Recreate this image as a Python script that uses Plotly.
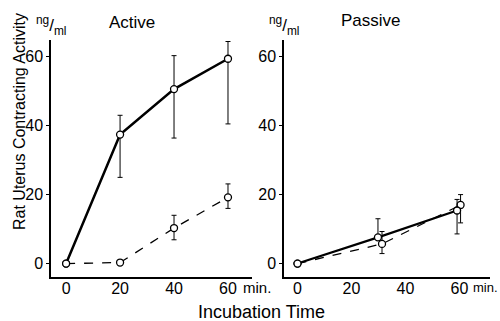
import plotly.graph_objects as go

# Active panel
act_time = [0, 20, 40, 60]
act_solid = [0, 37.4, 50.6, 59.4]
act_solid_err_plus = [0, 5.6, 9.7, 5.0]
act_solid_err_minus = [0, 12.4, 14.2, 18.9]
act_dash = [0, 0.3, 10.3, 19.2]
act_dash_err_plus = [0, 0, 3.7, 3.9]
act_dash_err_minus = [0, 0, 3.4, 3.2]

# Passive panel
pas_solid_time = [0, 29.8, 59.1]
pas_solid = [0, 7.6, 15.4]
pas_solid_err_plus = [0, 5.4, 3.2]
pas_solid_err_minus = [0, 0, 6.8]
pas_dash_time = [0, 31.3, 60.4]
pas_dash = [0, 5.7, 17.0]
pas_dash_err_plus = [0, 3.6, 3.0]
pas_dash_err_minus = [0, 2.8, 5.2]

tick_vals = [0, 20, 40, 60]
tick_text = ["0", "20", "40", "60"]

FONT = "Liberation Sans"
fig = go.Figure()

def add(x, y, ep, em, dash, width, xa, ya):
    fig.add_trace(go.Scatter(
        x=x, y=y, mode="lines+markers", xaxis=xa, yaxis=ya,
        line=dict(color="black", width=width, dash=dash),
        marker=dict(symbol="circle", size=7, color="white",
                    line=dict(color="black", width=1.3)),
        error_y=dict(type="data", symmetric=False, array=ep, arrayminus=em,
                     color="black", thickness=1, width=2.5),
        showlegend=False, cliponaxis=False))

add(act_time, act_dash, act_dash_err_plus, act_dash_err_minus, "dash", 1.3, "x", "y")
add(act_time, act_solid, act_solid_err_plus, act_solid_err_minus, "solid", 2.5, "x", "y")
add(pas_dash_time, pas_dash, pas_dash_err_plus, pas_dash_err_minus, "dash", 1.3, "x2", "y2")
add(pas_solid_time, pas_solid, pas_solid_err_plus, pas_solid_err_minus, "solid", 2.2, "x2", "y2")

xcommon = dict(range=[-5.6, 68.9], tickvals=tick_vals, ticktext=tick_text,
               showline=True, linecolor="black", linewidth=1.5, ticks="",
               showgrid=False, zeroline=False, ticklabelstandoff=-4,
               tickfont=dict(family=FONT, size=16, color="black"))
ycommon = dict(range=[-3.9, 64.8], tickvals=tick_vals, ticktext=tick_text,
               showline=True, linecolor="black", linewidth=1.5, ticks="outside",
               ticklen=3, tickcolor="black", showgrid=False, zeroline=False,
               tickfont=dict(family=FONT, size=16, color="black"))

fig.update_layout(
    width=500, height=321, margin=dict(l=0, r=0, t=0, b=0),
    paper_bgcolor="white", plot_bgcolor="white",
    xaxis=dict(domain=[0.102, 0.504], anchor="y", **xcommon),
    yaxis=dict(domain=[0.137, 0.875], anchor="x", **ycommon),
    xaxis2=dict(domain=[0.568, 0.98], anchor="y2", **{**xcommon, "range": [-5.0, 71.3]}),
    yaxis2=dict(domain=[0.137, 0.875], anchor="x2", **ycommon),
)

def ann(text, x, y, size, angle=0, xanchor="center"):
    fig.add_annotation(text=text, x=x / 500, y=1 - y / 321, xref="paper", yref="paper",
                       showarrow=False, textangle=angle, xanchor=xanchor, yanchor="middle",
                       font=dict(family=FONT, size=size, color="black"))

ann("Active", 132, 22, 17)
ann("Passive", 371, 20, 17)
ann("<sup>ng</sup>/<sub>ml</sub>", 51, 25, 17)
ann("<sup>ng</sup>/<sub>ml</sub>", 284, 25, 17)
ann("min.", 241, 287, 15, xanchor="left")
ann("min.", 471, 287, 13, xanchor="left")
ann("Incubation Time", 261, 312, 18)
ann("Rat Uterus Contracting Activity", 19, 122, 16, angle=-90)

fig.write_html("out.html", post_script="document.body.style.margin='0';",
               config={"displayModeBar": False})
